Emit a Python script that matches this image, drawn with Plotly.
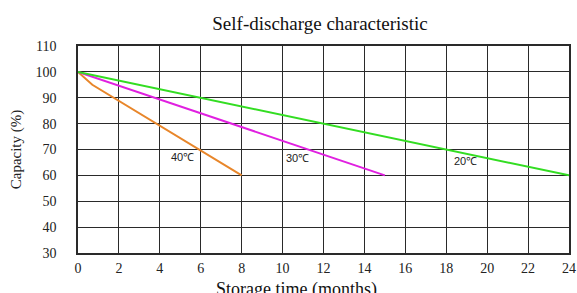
import plotly.graph_objects as go

months_40 = [0, 0.7, 8]
cap_40 = [100, 95, 60]
months_30 = [0, 15]
cap_30 = [100, 60]
months_20 = [0, 24]
cap_20 = [100, 60]

label_text = ["40℃", "30℃", "20℃"]
label_x = [5.13, 10.73, 18.94]
label_y = [67.1, 66.8, 65.7]

x_ticks = list(range(0, 25, 2))
y_ticks = list(range(30, 111, 10))

fig = go.Figure()
fig.add_trace(go.Scatter(x=months_40, y=cap_40, mode="lines",
                         line=dict(color="#E8862A", width=2), showlegend=False))
fig.add_trace(go.Scatter(x=months_30, y=cap_30, mode="lines",
                         line=dict(color="#E020E0", width=2), showlegend=False))
fig.add_trace(go.Scatter(x=months_20, y=cap_20, mode="lines",
                         line=dict(color="#33DD22", width=2), showlegend=False))

for t, x, y in zip(label_text, label_x, label_y):
    fig.add_annotation(x=x, y=y, text=t, showarrow=False,
                       font=dict(family="Liberation Sans", size=11, color="#222"))

# x-axis title placed as annotation (reference shows it left of plot centre)
fig.add_annotation(xref="paper", yref="paper", x=(296 - 78) / 491, y=-(289 - 253) / 207,
                   xanchor="center", yanchor="middle", showarrow=False,
                   text="Storage time (months)",
                   font=dict(family="Liberation Serif", size=18, color="#111"))

fig.update_layout(
    width=577, height=293,
    margin=dict(l=78, r=8, t=46, b=40, autoexpand=False),
    paper_bgcolor="white", plot_bgcolor="white",
    font=dict(family="Liberation Serif", color="#222"),
    title=dict(text="Self-discharge characteristic", x=320 / 577, xanchor="center",
               xref="container", y=1 - 23 / 293, yanchor="middle",
               font=dict(size=19, family="Liberation Serif", color="#111")),
)
fig.update_xaxes(range=[0, 24], tickvals=x_ticks, ticks="", showgrid=True,
                 gridcolor="#2a2a2a", gridwidth=1.3, showline=True, linecolor="#2a2a2a",
                 linewidth=1.5, mirror=True, zeroline=False, automargin=False,
                 tickfont=dict(size=14, family="Liberation Serif"), ticklabelstandoff=1)
fig.update_yaxes(range=[30, 110], tickvals=y_ticks, ticks="", showgrid=True,
                 gridcolor="#2a2a2a", gridwidth=1.3, showline=True, linecolor="#2a2a2a",
                 linewidth=1.5, mirror=True, zeroline=False, automargin=False,
                 tickfont=dict(size=14, family="Liberation Serif"), ticklabelstandoff=17,
                 title=dict(text="Capacity (%)", font=dict(size=15), standoff=10))

fig.write_html("out.html", config={"displayModeBar": False},
               post_script="document.body.style.margin='0';document.body.style.overflow='hidden';")
